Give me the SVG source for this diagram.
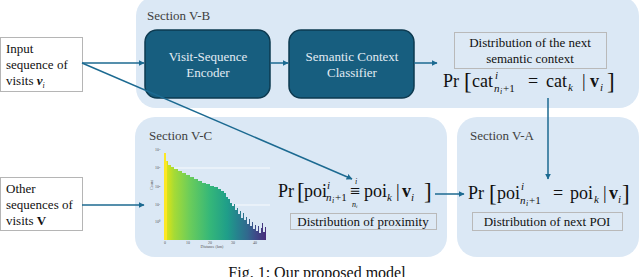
<svg xmlns="http://www.w3.org/2000/svg" width="640" height="277" viewBox="0 0 640 277" font-family="'Liberation Serif','Times New Roman',serif">
<style>
text{font-family:"Liberation Serif","Times New Roman",serif;}
.panel{fill:#dbe8f5;}
.sec{font-size:13px;fill:#404040;}
.lbl{font-size:13px;fill:#111;}
.whitebox{fill:#fff;stroke:#b5b5b5;stroke-width:1;}
.dark{fill:#175e7f;stroke:#0d3a50;stroke-width:1.5;}
.dtxt{font-size:13px;fill:#e2ecf4;text-anchor:middle;}
.gbox{fill:#dde9f5;stroke:#b9b9b9;stroke-width:1;}
.btxt{font-size:13px;fill:#111;text-anchor:middle;}
.conn{stroke:#1c6a91;stroke-width:1.5;fill:none;}
.m{font-size:18px;fill:#111;}
.ms{font-size:11px;fill:#111;}
.mss{font-size:8px;fill:#111;}
.br{font-size:23px;fill:#111;}
.tick{font-size:4px;fill:#555;}
</style>
<defs>
<marker id="arr" viewBox="0 0 10 10" refX="9" refY="5" markerWidth="4" markerHeight="4" orient="auto" markerUnits="strokeWidth">
<path d="M0,0 L10,5 L0,10 Z" fill="#1c6a91"/>
</marker>
<linearGradient id="vir" x1="164" y1="0" x2="266" y2="0" gradientUnits="userSpaceOnUse">
<stop offset="0" stop-color="#fde725"/>
<stop offset="0.025" stop-color="#fde725"/>
<stop offset="0.03" stop-color="#d8e219"/>
<stop offset="0.1" stop-color="#a5db36"/>
<stop offset="0.25" stop-color="#6ccd5a"/>
<stop offset="0.45" stop-color="#35b779"/>
<stop offset="0.62" stop-color="#1f9e89"/>
<stop offset="0.72" stop-color="#26828e"/>
<stop offset="0.82" stop-color="#31688e"/>
<stop offset="0.9" stop-color="#3e4a89"/>
<stop offset="1" stop-color="#472d7b"/>
</linearGradient>
</defs>

<rect width="640" height="277" fill="#fff"/>

<g id="panel-vb">
<rect class="panel" x="136" y="-4" width="503" height="112" rx="20"/>
<text class="sec" x="147" y="20">Section V-B</text>
</g>
<g id="panel-vc">
<rect class="panel" x="135" y="117" width="312" height="140" rx="20"/>
<text class="sec" x="149" y="140">Section V-C</text>
</g>
<g id="panel-va">
<rect class="panel" x="457" y="117" width="182" height="140" rx="20"/>
<text class="sec" x="470" y="140">Section V-A</text>
</g>

<g id="input">
<rect class="whitebox" x="0.5" y="37.5" width="82" height="54"/>
<text class="lbl" x="6" y="53">Input</text>
<text class="lbl" x="6" y="69">sequence of</text>
<text class="lbl" x="6" y="85">visits <tspan font-weight="bold" font-style="italic">v</tspan><tspan font-size="8" font-style="italic" dy="3">i</tspan></text>
</g>

<g id="other">
<rect class="whitebox" x="0.5" y="177.5" width="82" height="53"/>
<text class="lbl" x="6" y="193">Other</text>
<text class="lbl" x="6" y="209">sequences of</text>
<text class="lbl" x="6" y="225">visits <tspan font-weight="bold">V</tspan></text>
</g>

<g id="encoder">
<rect class="dark" x="145" y="30" width="125" height="68" rx="12"/>
<text class="dtxt" x="208" y="61">Visit-Sequence</text>
<text class="dtxt" x="208" y="77">Encoder</text>
</g>

<g id="classifier">
<rect class="dark" x="289" y="30" width="125" height="68" rx="12"/>
<text class="dtxt" x="352" y="61">Semantic Context</text>
<text class="dtxt" x="352" y="77">Classifier</text>
</g>

<g id="semantic-dist">
<rect class="gbox" x="454.5" y="32.5" width="152" height="36"/>
<text class="btxt" x="530" y="47">Distribution of the next</text>
<text class="btxt" x="530" y="63">semantic context</text>
<text class="m" x="443" y="87">Pr</text>
<text class="br" x="464" y="89">[</text>
<text class="m" x="472" y="87">cat</text>
<text class="ms" font-style="italic" x="495" y="79">i</text>
<text class="ms" font-style="italic" x="494" y="92">n</text>
<text class="mss" font-style="italic" x="500" y="94">i</text>
<text class="ms" x="503" y="92">+1</text>
<text class="m" x="528" y="87">=</text>
<text class="m" x="546" y="87">cat</text>
<text class="ms" font-style="italic" x="568" y="91">k</text>
<text class="m" x="582" y="87">|</text>
<text class="m" font-weight="bold" x="590" y="87">v</text>
<text class="ms" font-style="italic" x="600" y="91">i</text>
<text class="br" x="607" y="89">]</text>
</g>

<g id="proximity">
<rect class="gbox" x="290.5" y="213.5" width="146" height="16"/>
<text class="btxt" x="363" y="226">Distribution of proximity</text>
<text class="m" font-size="17" x="278" y="197">Pr</text>
<text class="br" x="297" y="199">[</text>
<text class="m" font-size="17" x="304" y="197">poi</text>
<text class="ms" font-style="italic" x="327" y="189">i</text>
<text class="ms" font-style="italic" x="326" y="201">n</text>
<text class="mss" font-style="italic" x="332" y="203">i</text>
<text class="ms" x="335" y="201">+1</text>
<text class="m" font-size="16" x="350" y="197">≡</text>
<text class="mss" font-style="italic" font-size="7" x="355" y="184">i</text>
<text class="mss" font-style="italic" font-size="7" x="352" y="207">n<tspan font-size="5" dy="1">i</tspan></text>
<text class="m" font-size="17" x="364" y="197">poi</text>
<text class="ms" font-style="italic" x="387" y="201">k</text>
<text class="m" font-size="17" x="396" y="197">|</text>
<text class="m" font-size="17" font-weight="bold" x="402" y="197">v</text>
<text class="ms" font-style="italic" x="411" y="201">i</text>
<text class="br" x="424" y="199">]</text>
</g>

<g id="next-poi">
<rect class="gbox" x="472.5" y="212.5" width="150" height="18"/>
<text class="btxt" x="547" y="226">Distribution of next POI</text>
<text class="m" x="468" y="199">Pr</text>
<text class="br" x="489" y="201">[</text>
<text class="m" x="497" y="199">poi</text>
<text class="ms" font-style="italic" x="521" y="190">i</text>
<text class="ms" font-style="italic" x="520" y="204">n</text>
<text class="mss" font-style="italic" x="526" y="206">i</text>
<text class="ms" x="529" y="204">+1</text>
<text class="m" x="553" y="199">=</text>
<text class="m" x="570" y="199">poi</text>
<text class="ms" font-style="italic" x="594" y="203">k</text>
<text class="m" x="603" y="199">|</text>
<text class="m" font-weight="bold" x="609" y="199">v</text>
<text class="ms" font-style="italic" x="618" y="203">i</text>
<text class="br" x="622" y="201">]</text>
</g>

<g id="histogram">
<line x1="164" y1="168" x2="270" y2="168" stroke="#fff" stroke-width="0.8"/>
<line x1="164" y1="205" x2="270" y2="205" stroke="#fff" stroke-width="0.8"/>
<path fill="url(#vir)" d="M164,240 L164,153 L166,153 L166,161 L168,161 L168,165 L171,165 L171,167 L174,167 L174,169 L178,169 L178,171 L182,171 L182,173 L186,173 L186,175 L190,175 L190,177 L194,177 L194,179 L198,179 L198,181 L202,181 L202,183 L206,183 L206,184 L210,184 L210,186 L214,186 L214,187 L218,187 L218,189 L221,189 L221,191 L224,191 L224,193 L226,193 L226,197 L228,197 L228,199 L230,199 L230,203 L232,203 L232,206 L234,206 L234,204 L235,204 L235,210 L237,210 L237,208 L238,208 L238,214 L240,214 L240,211 L241,211 L241,218 L243,218 L243,213 L244,213 L244,220 L246,220 L246,217 L247,217 L247,224 L249,224 L249,219 L250,219 L250,226 L252,226 L252,222 L253,222 L253,229 L255,229 L255,225 L256,225 L256,231 L258,231 L258,226 L259,226 L259,233 L261,233 L261,228 L262,228 L262,223 L263,223 L263,232 L265,232 L265,227 L266,227 L266,240 Z"/>
<text class="tick" x="155" y="151">10⁴</text>
<text class="tick" x="155" y="169">10³</text>
<text class="tick" x="155" y="188">10²</text>
<text class="tick" x="155" y="206">10¹</text>
<text class="tick" x="155" y="223">10⁰</text>
<text class="tick" transform="translate(153,190) rotate(-90)">Count</text>
<text class="tick" text-anchor="middle" x="165" y="244">0</text>
<text class="tick" text-anchor="middle" x="188" y="244">10</text>
<text class="tick" text-anchor="middle" x="210" y="244">20</text>
<text class="tick" text-anchor="middle" x="233" y="244">30</text>
<text class="tick" text-anchor="middle" x="255" y="244">40</text>
<text class="tick" text-anchor="middle" x="212" y="248">Distance (km)</text>
</g>

<g id="connectors">
<line class="conn" x1="82" y1="63" x2="144" y2="63" marker-end="url(#arr)"/>
<line class="conn" x1="82" y1="63" x2="352" y2="179" marker-end="url(#arr)"/>
<line class="conn" x1="270" y1="63" x2="288" y2="63" marker-end="url(#arr)"/>
<line class="conn" x1="414" y1="63" x2="437" y2="63" marker-end="url(#arr)"/>
<line class="conn" x1="548" y1="98" x2="548" y2="179" marker-end="url(#arr)"/>
<line class="conn" x1="82" y1="205" x2="144" y2="205" marker-end="url(#arr)"/>
<line class="conn" x1="435" y1="194" x2="464" y2="194" marker-end="url(#arr)"/>
</g>

<text x="317" y="278" font-size="16" fill="#111" text-anchor="middle">Fig. 1: Our proposed model</text>
</svg>
